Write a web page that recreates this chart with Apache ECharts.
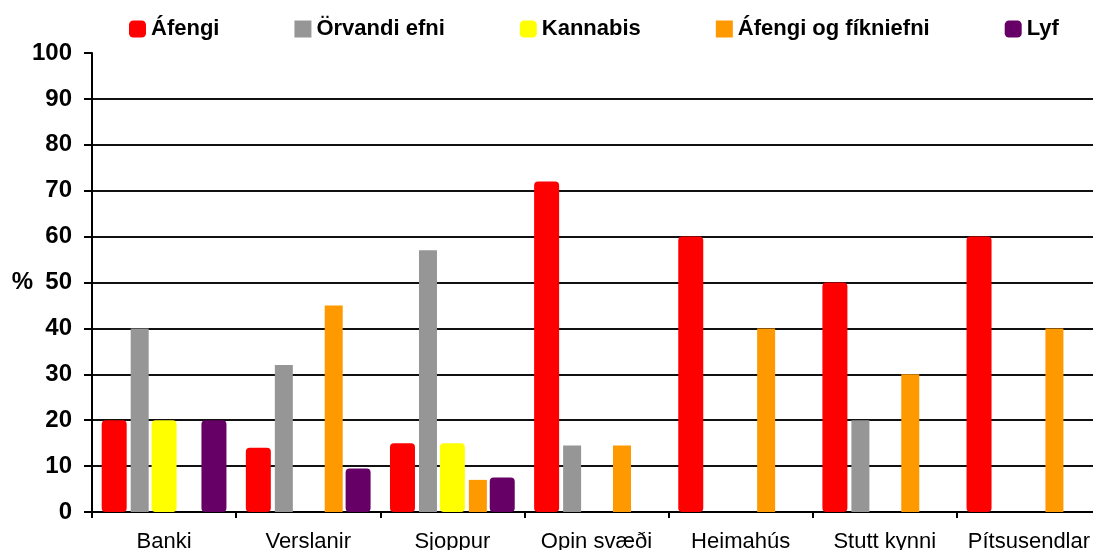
<!DOCTYPE html>
<html lang="is">
<head>
    <meta charset="UTF-8">
    <title>Chart</title>
    <style>
        * { padding: 0; margin: 0; box-sizing: border-box; }
        html, body, #chart-container { width: 100%; height: 100%; background: #fff; }
    </style>
</head>
<body>
    <div id="chart-container"></div>
</body>
</html>
<script src="https://cdn.jsdelivr.net/npm/echarts@6/dist/echarts.min.js"></script>
<script>
    // flokkar (x-ás)
    const categories = ['Banki', 'Verslanir', 'Sjoppur', 'Opin svæði', 'Heimahús', 'Stutt kynni', 'Pítsusendlar']

    // gildi í %
    const afengi = [20, 14, 15, 72, 60, 50, 60]
    const orvandi = [40, 32, 57, 14.5, 0, 20, 0]
    const kannabis = [20, 0, 15, 0, 0, 0, 0]
    const afengiFikni = [0, 45, 7, 14.5, 40, 30, 40]
    const lyf = [20, 9.5, 7.5, 0, 0, 0, 0]

    const font = '"Liberation Sans", Arial, sans-serif'

    var myChart = echarts.init(document.getElementById('chart-container'))

    // rúnnaðar súlur (breiðari) og flatar súlur (mjórri)
    function roundBar(name, data, color) {
        return {
            name: name,
            type: 'bar',
            data: data,
            barWidth: 25,
            barGap: '16%',
            itemStyle: { color: color, borderRadius: 4 }
        }
    }

    function flatBar(name, data, color) {
        return {
            name: name,
            type: 'bar',
            data: data,
            barWidth: 18,
            barGap: '16%',
            itemStyle: { color: color }
        }
    }

    var option = {
        backgroundColor: '#fff',
        animation: false,
        legend: {
            left: 124,
            top: 13,
            itemWidth: 17,
            itemHeight: 17,
            itemGap: 75,
            textStyle: { fontFamily: font, fontSize: 22, fontWeight: 'bold', color: '#000' },
            data: [
                { name: 'Áfengi', icon: 'roundRect' },
                { name: 'Örvandi efni', icon: 'rect' },
                { name: 'Kannabis', icon: 'roundRect' },
                { name: 'Áfengi og fíkniefni', icon: 'rect' },
                { name: 'Lyf', icon: 'roundRect' }
            ]
        },
        // plottið nær aðeins út fyrir hægri brún myndarinnar
        grid: { left: 92, width: 1009, top: 53, bottom: 38, containLabel: false, outerBoundsMode: 'none' },
        xAxis: {
            type: 'category',
            data: categories,
            axisLine: { lineStyle: { color: '#000', width: 2 } },
            axisTick: { show: true, length: 6, lineStyle: { color: '#000', width: 2 } },
            axisLabel: { fontFamily: font, fontSize: 22, color: '#000', margin: 19, interval: 0 }
        },
        yAxis: {
            type: 'value',
            min: 0,
            max: 100,
            interval: 10,
            name: '%',
            nameLocation: 'middle',
            nameRotate: 0,
            nameGap: 59,
            nameMoveOverlap: false,
            nameTextStyle: { fontFamily: font, fontSize: 24, fontWeight: 'bold', color: '#000' },
            axisLine: { show: true, lineStyle: { color: '#000', width: 2 } },
            axisTick: { show: true, length: 8, lineStyle: { color: '#000', width: 2 } },
            axisLabel: { fontFamily: font, fontSize: 24, fontWeight: 'bold', color: '#000', margin: 20 },
            splitLine: { show: true, showMaxLine: false, lineStyle: { color: '#111', width: 2 } }
        },
        series: [
            roundBar('Áfengi', afengi, '#FF0000'),
            flatBar('Örvandi efni', orvandi, '#969696'),
            roundBar('Kannabis', kannabis, '#FFFF00'),
            flatBar('Áfengi og fíkniefni', afengiFikni, '#FF9900'),
            roundBar('Lyf', lyf, '#660066')
        ]
    }

    myChart.setOption(option)
</script>
